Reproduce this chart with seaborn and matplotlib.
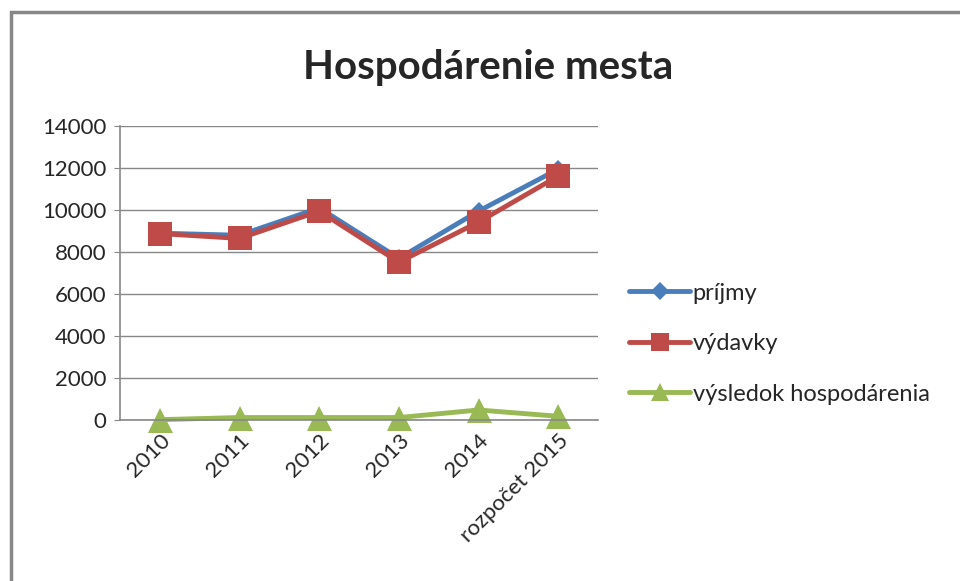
import pandas as pd
import seaborn as sns
import matplotlib.pyplot as plt
from matplotlib.lines import Line2D
from matplotlib.patches import Rectangle

# data
years = ['2010', '2011', '2012', '2013', '2014', 'rozpočet 2015']
prijmy = [8900, 8800, 10100, 7700, 9950, 11950]
vydavky = [8880, 8650, 9950, 7520, 9430, 11620]
vysledok = [20, 120, 120, 120, 480, 180]

series_names = ['príjmy', 'výdavky', 'výsledok hospodárenia']
colors = ['#4a7ebb', '#be4b48', '#98b954']
markers = ['D', 's', '^']
msizes = [9, 17, 18]

df = pd.DataFrame({'rok': years, series_names[0]: prijmy,
                   series_names[1]: vydavky, series_names[2]: vysledok})
long = df.melt(id_vars='rok', var_name='séria', value_name='hodnota')

sns.set_style('white')
plt.rcParams['font.family'] = ['Lato', 'DejaVu Sans']

fig = plt.figure(figsize=(9.6, 5.81), dpi=100)
ax = fig.add_axes([0.125, 0.277, 0.498, 0.506])

for name, c, m, ms in zip(series_names, colors, markers, msizes):
    sub = long[long['séria'] == name]
    sns.lineplot(data=sub, x='rok', y='hodnota', ax=ax, color=c, lw=3.5,
                 marker=m, markersize=ms, markeredgecolor=c, markeredgewidth=0,
                 sort=False, clip_on=False)

ax.set_xlim(-0.5, len(years) - 0.5)
ax.set_ylim(0, 14000)
ax.set_yticks(range(0, 14001, 2000))
ax.grid(axis='y', color='#878787', lw=1)
ax.set_axisbelow(True)
for s in ['top', 'right']:
    ax.spines[s].set_visible(False)
for s in ['left', 'bottom']:
    ax.spines[s].set_color('#878787')
    ax.spines[s].set_linewidth(1.2)
ax.set_xlabel('')
ax.set_ylabel('')
ax.tick_params(axis='y', labelsize=16, pad=6, left=True, length=4,
               color='#878787')
ax.tick_params(axis='x', labelsize=16, pad=4)
plt.setp(ax.get_xticklabels(), rotation=45, ha='right', rotation_mode='anchor')

fig.suptitle('Hospodárenie mesta', x=0.508, y=0.915, fontsize=29,
             fontweight='bold')

# legend with smaller markers than on the lines
handles = [Line2D([], [], color=c, lw=3.5, marker=m, markersize=ms,
                  markeredgewidth=0)
           for c, m, ms in zip(colors, markers, [9, 13, 13])]
ax.legend(handles, series_names, loc='center left', bbox_to_anchor=(1.02, 0.26),
          frameon=False, fontsize=17, labelspacing=1.25,
          handlelength=2.6, handletextpad=0.1)

fig.patches.append(Rectangle((0.011, -0.1), 1.1, 1.0785, transform=fig.transFigure,
                             fill=False, edgecolor='#878787', lw=2.5))

fig.savefig('out.png', dpi=100)
